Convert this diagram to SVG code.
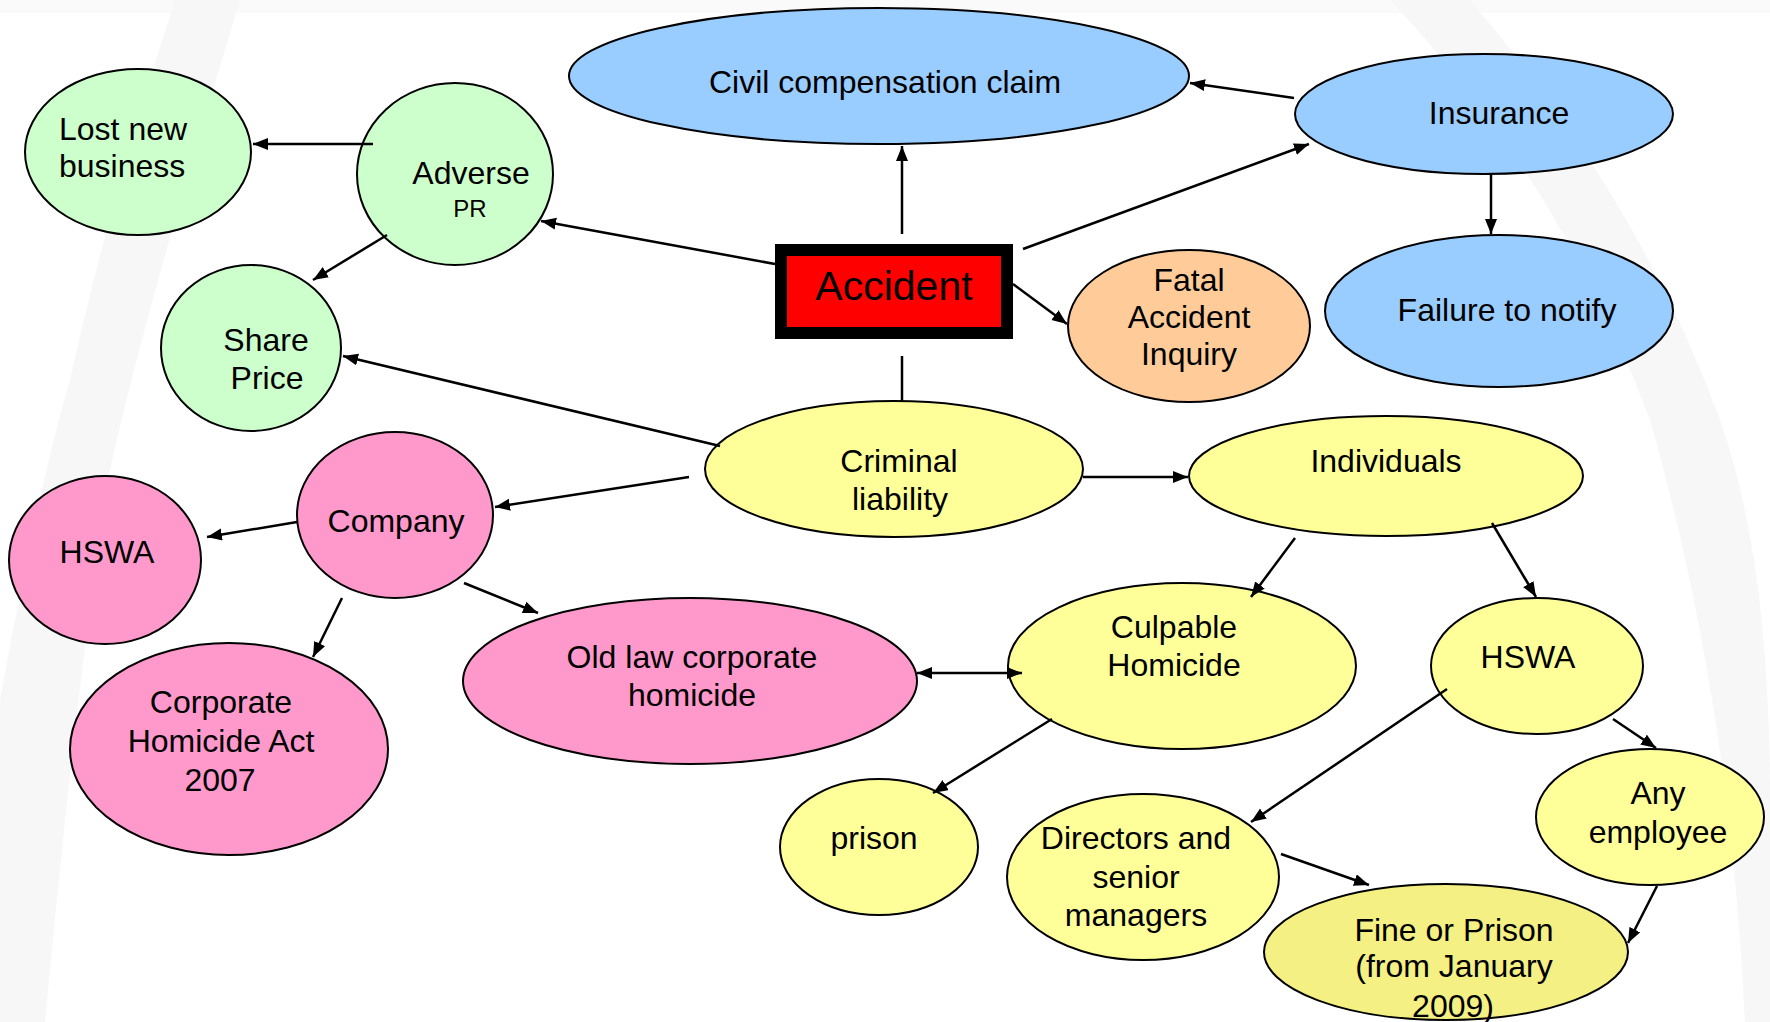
<svg xmlns="http://www.w3.org/2000/svg" width="1770" height="1022" viewBox="0 0 1770 1022">
<style>
  .n { stroke: #000; stroke-width: 2; }
  .g { fill: #CCFFCC; }
  .b { fill: #99CCFF; }
  .o { fill: #FFCC99; }
  .y { fill: #FFFF99; }
  .p { fill: #FF99CC; }
  .f { fill: #F4F083; }
  text { font-family: "Liberation Sans", Arial, sans-serif; font-size: 32px; fill: #000; text-anchor: middle; }
  text.l { text-anchor: start; }
  text.big { font-size: 41px; }
  text.small { font-size: 24px; }
  .c line { stroke: #000; stroke-width: 2.5; }
  .a { marker-end: url(#ah); }
</style>
<defs>
  <marker id="ah" markerUnits="userSpaceOnUse" markerWidth="16" markerHeight="13" refX="15" refY="6" orient="auto-start-reverse">
    <path d="M0,0 L15,6 L0,12 z" fill="#000"/>
  </marker>
</defs>
<rect width="1770" height="1022" fill="#fff"/>
<g id="background" fill="#f7f7f7">
  <rect x="0" y="0" width="1770" height="13" fill="#fafafa"/>
  <path d="M175,0 L240,0 Q140,330 110,470 Q80,650 45,1022 L0,1022 L0,700 Q40,480 70,380 Q110,200 175,0 Z"/>
  <path d="M1390,0 L1470,0 Q1640,200 1720,420 Q1770,560 1770,800 L1770,1022 L1745,1022 Q1730,700 1650,420 Q1560,180 1390,0 Z"/>
</g>
<g id="civil"><ellipse class="n b" cx="879" cy="76" rx="310" ry="68"/><text x="885" y="93">Civil compensation claim</text></g>
<g id="insurance"><ellipse class="n b" cx="1484" cy="114" rx="189" ry="60"/><text x="1499" y="124">Insurance</text></g>
<g id="failure"><ellipse class="n b" cx="1499" cy="311" rx="174" ry="76"/><text x="1507" y="321">Failure to notify</text></g>
<g id="lost"><ellipse class="n g" cx="138" cy="152" rx="113" ry="83"/><text class="l" x="59" y="140">Lost new</text><text class="l" x="59" y="177">business</text></g>
<g id="adverse"><ellipse class="n g" cx="455" cy="174" rx="98" ry="91"/><text x="471" y="184">Adverse</text><text class="small" x="470" y="217">PR</text></g>
<g id="share"><ellipse class="n g" cx="251" cy="348" rx="90" ry="83"/><text x="266" y="351">Share</text><text x="267" y="389">Price</text></g>
<g id="accident"><rect x="781" y="250" width="226" height="83" fill="#FF0000" stroke="#000" stroke-width="12"/><text class="big" x="894" y="300">Accident</text></g>
<g id="fatal"><ellipse class="n o" cx="1189" cy="326" rx="121" ry="76"/><text x="1189" y="291">Fatal</text><text x="1189" y="328">Accident</text><text x="1189" y="365">Inquiry</text></g>
<g id="criminal"><ellipse class="n y" cx="894" cy="469" rx="189" ry="68"/><text x="899" y="472">Criminal</text><text x="900" y="510">liability</text></g>
<g id="individuals"><ellipse class="n y" cx="1386" cy="476" rx="197" ry="60"/><text x="1386" y="472">Individuals</text></g>
<g id="company"><ellipse class="n p" cx="395" cy="515" rx="98" ry="83"/><text x="396" y="532">Company</text></g>
<g id="hswa-company"><ellipse class="n p" cx="105" cy="560" rx="96" ry="84"/><text x="107" y="563">HSWA</text></g>
<g id="corporate"><ellipse class="n p" cx="229" cy="749" rx="159" ry="106"/><text x="221" y="713">Corporate</text><text x="221" y="752">Homicide Act</text><text x="220" y="791">2007</text></g>
<g id="oldlaw"><ellipse class="n p" cx="690" cy="681" rx="227" ry="83"/><text x="692" y="668">Old law corporate</text><text x="692" y="706">homicide</text></g>
<g id="culpable"><ellipse class="n y" cx="1182" cy="666" rx="174" ry="83"/><text x="1174" y="638">Culpable</text><text x="1174" y="676">Homicide</text></g>
<g id="hswa-individuals"><ellipse class="n y" cx="1537" cy="666" rx="106" ry="68"/><text x="1528" y="668">HSWA</text></g>
<g id="anyemployee"><ellipse class="n y" cx="1650" cy="817" rx="114" ry="68"/><text x="1658" y="804">Any</text><text x="1658" y="843">employee</text></g>
<g id="prison"><ellipse class="n y" cx="879" cy="847" rx="99" ry="68"/><text x="874" y="849">prison</text></g>
<g id="directors"><ellipse class="n y" cx="1143" cy="877" rx="136" ry="83"/><text x="1136" y="849">Directors and</text><text x="1136" y="888">senior</text><text x="1136" y="926">managers</text></g>
<g id="fine"><ellipse class="n f" cx="1446" cy="952" rx="182" ry="68"/><text x="1454" y="941">Fine or Prison</text><text x="1454" y="977">(from January</text><text x="1453" y="1017">2009)</text></g>
<g class="c" id="connectors">
  <line class="a" x1="902" y1="234" x2="902" y2="146"/>
  <line class="a" x1="775" y1="264" x2="541" y2="221"/>
  <line class="a" x1="1023" y1="249" x2="1309" y2="144"/>
  <line class="a" x1="1013" y1="284" x2="1067" y2="324"/>
  <line x1="902" y1="356" x2="902" y2="401"/>
  <line class="a" x1="1294" y1="98" x2="1190" y2="83"/>
  <line class="a" x1="1491" y1="174" x2="1491" y2="234"/>
  <line class="a" x1="373" y1="144" x2="253" y2="144"/>
  <line class="a" x1="387" y1="235" x2="313" y2="280"/>
  <line class="a" x1="720" y1="446" x2="343" y2="356"/>
  <line class="a" x1="689" y1="477" x2="495" y2="507"/>
  <line class="a" x1="1083" y1="477" x2="1188" y2="477"/>
  <line class="a" x1="297" y1="522" x2="207" y2="537"/>
  <line class="a" x1="342" y1="598" x2="313" y2="657"/>
  <line class="a" x1="464" y1="583" x2="538" y2="613"/>
  <line class="a" x1="917" y1="673" x2="1022" y2="673" marker-start="url(#ah)"/>
  <line class="a" x1="1295" y1="538" x2="1251" y2="597"/>
  <line class="a" x1="1492" y1="523" x2="1536" y2="597"/>
  <line class="a" x1="1052" y1="719" x2="933" y2="793"/>
  <line class="a" x1="1447" y1="689" x2="1251" y2="822"/>
  <line class="a" x1="1613" y1="719" x2="1656" y2="748"/>
  <line class="a" x1="1281" y1="854" x2="1369" y2="885"/>
  <line class="a" x1="1657" y1="886" x2="1628" y2="943"/>
</g>
</svg>
